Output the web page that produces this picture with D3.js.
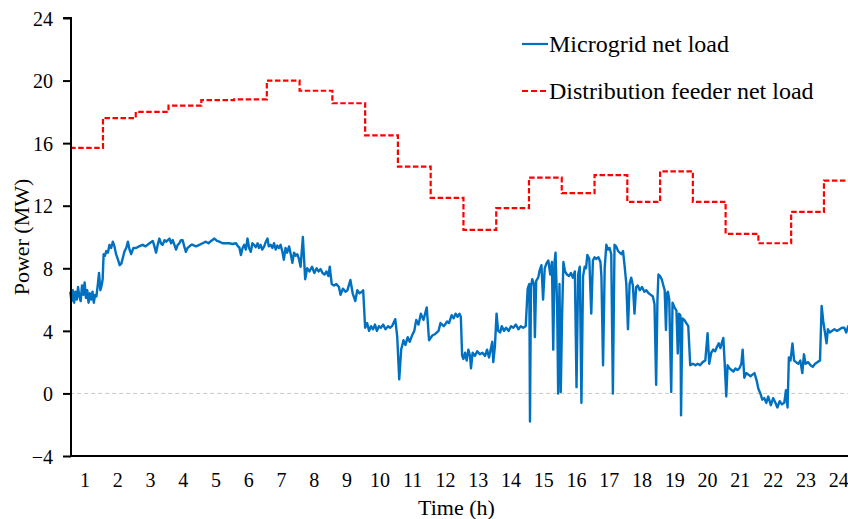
<!DOCTYPE html>
<html>
<head>
<meta charset="utf-8">
<script src="https://cdn.jsdelivr.net/npm/d3@7"></script>
<style>
  html, body { margin: 0; padding: 0; background: #fff; }
  svg { display: block; }
  svg text { font-family: "Liberation Serif", "Times New Roman", "DejaVu Serif", serif; fill: #000; }
</style>
</head>
<body>
<svg id="chart" width="848" height="519" font-family="Liberation Serif, Times New Roman, serif"></svg>
<script>
// Hourly net load of the distribution feeder (MW), hour 0..23
const feederLoad = [15.7, 17.6, 18.0, 18.4, 18.75, 18.8, 20.0, 19.35, 18.55, 16.5, 14.5, 12.5,
                    10.45, 11.85, 13.8, 12.8, 13.95, 12.25, 14.2, 12.25, 10.2, 9.6, 11.6, 13.6];

// Microgrid net load samples: [time (h), power (MW)]
const microgridLoad = [
  [0.00,6.5],[0.04,5.9],[0.08,6.6],[0.12,5.8],[0.16,6.5],[0.20,6.0],[0.24,6.8],[0.28,6.2],[0.32,5.9],[0.36,6.9],
  [0.40,6.3],[0.44,7.1],[0.48,6.1],[0.52,6.6],[0.56,5.8],[0.60,6.4],[0.64,6.0],[0.68,6.5],[0.72,5.8],[0.76,6.3],
  [0.80,6.2],[0.84,6.9],[0.88,7.7],[0.92,6.6],[0.96,6.9],[0.99,7.3],
  [1.02,8.9],[1.06,8.8],[1.10,9.1],[1.15,9.0],[1.20,9.5],[1.25,9.3],[1.30,9.7],[1.35,9.4],[1.40,8.9],[1.45,8.6],
  [1.51,8.2],[1.56,8.3],[1.61,8.7],[1.66,9.1],[1.71,9.3],[1.76,9.7],[1.81,9.2],[1.86,8.9],[1.93,9.3],[2.01,9.3],
  [2.10,9.4],[2.21,9.5],[2.30,9.4],[2.42,9.6],[2.52,9.75],[2.57,9.4],[2.62,9.0],[2.67,9.5],[2.72,9.9],[2.77,9.6],
  [2.82,9.5],[2.88,9.8],[2.93,9.7],[3.03,9.9],[3.08,9.6],[3.13,9.8],[3.18,9.5],[3.23,9.2],[3.28,9.5],[3.33,9.6],
  [3.38,9.8],[3.43,9.8],[3.48,9.4],[3.53,9.05],[3.58,9.3],[3.64,9.4],[3.69,9.5],[3.74,9.5],[3.84,9.4],[3.94,9.5],
  [4.04,9.6],[4.14,9.7],[4.22,9.6],[4.30,9.75],[4.40,9.9],[4.48,9.75],[4.55,9.7],[4.65,9.6],[4.75,9.6],[4.85,9.6],
  [4.95,9.55],[5.06,9.6],[5.12,9.4],[5.16,9.35],[5.21,8.85],[5.26,9.3],[5.31,9.5],[5.36,9.2],[5.41,9.9],[5.46,9.3],
  [5.51,9.05],[5.56,9.6],[5.61,9.5],[5.66,9.35],[5.72,9.6],[5.76,9.3],[5.81,9.5],[5.86,9.2],[5.92,9.4],[5.97,9.7],
  [6.02,9.9],[6.06,9.4],[6.12,9.5],[6.17,9.3],[6.22,9.6],[6.27,9.2],[6.32,9.45],[6.37,9.3],[6.42,9.5],[6.47,9.1],
  [6.52,8.55],[6.57,9.3],[6.62,9.0],[6.68,9.4],[6.73,8.9],[6.78,8.35],[6.83,9.0],[6.88,8.8],[6.93,8.9],[6.98,8.6],
  [7.03,8.1],[7.10,10.0],[7.17,7.3],[7.23,8.0],[7.30,7.8],[7.38,8.1],[7.45,7.7],[7.52,8.0],[7.58,7.8],[7.64,7.95],
  [7.70,7.7],[7.76,7.6],[7.82,7.8],[7.88,7.5],[7.92,8.1],[7.98,7.0],[8.05,6.9],[8.12,7.0],[8.20,6.8],[8.25,6.3],
  [8.32,6.7],[8.40,6.5],[8.46,6.6],[8.55,7.25],[8.62,6.4],[8.70,5.9],[8.76,6.6],[8.83,6.4],[8.90,6.5],[8.94,6.6],
  [9.00,4.2],[9.06,4.5],[9.12,4.0],[9.18,4.3],[9.24,4.1],[9.30,4.4],[9.36,4.0],[9.42,4.3],[9.48,4.2],[9.55,4.4],
  [9.62,4.1],[9.70,4.3],[9.76,4.2],[9.82,4.3],[9.92,4.75],[9.98,3.6],[10.04,0.9],[10.10,2.8],[10.17,3.4],[10.23,3.1],
  [10.30,3.6],[10.36,3.3],[10.43,3.7],[10.50,4.0],[10.56,4.7],[10.63,4.4],[10.70,5.1],[10.78,4.7],[10.88,5.5],[10.95,3.4],
  [11.05,3.7],[11.14,3.8],[11.24,4.0],[11.30,4.5],[11.40,4.3],[11.44,4.4],[11.50,4.6],[11.56,4.5],[11.64,5.0],[11.70,4.8],
  [11.76,5.1],[11.82,4.9],[11.88,5.1],[11.92,4.9],[11.96,2.4],[12.00,2.2],[12.05,2.6],[12.10,2.1],[12.15,2.8],[12.20,2.4],
  [12.23,1.6],[12.28,2.6],[12.35,2.4],[12.42,2.7],[12.50,2.5],[12.58,2.6],[12.66,2.4],[12.72,2.8],[12.78,2.3],[12.84,2.9],
  [12.88,3.3],[12.91,2.0],[12.96,3.0],[13.01,5.1],[13.06,4.0],[13.12,3.9],[13.17,4.3],[13.24,4.0],[13.30,4.2],[13.38,4.0],
  [13.45,4.3],[13.52,4.2],[13.60,4.4],[13.68,4.1],[13.75,4.3],[13.82,4.2],[13.90,4.3],[13.96,6.7],[14.01,7.0],[14.03,-1.8],
  [14.06,6.8],[14.10,7.3],[14.15,7.0],[14.18,3.6],[14.22,7.2],[14.28,7.4],[14.33,7.9],[14.38,8.2],[14.43,6.0],[14.48,8.0],
  [14.53,8.3],[14.59,8.5],[14.65,7.6],[14.70,8.4],[14.74,2.8],[14.78,8.4],[14.81,9.0],[14.86,5.5],[14.89,0.0],[14.93,7.0],
  [14.97,0.1],[15.01,5.0],[15.05,8.4],[15.10,7.8],[15.16,7.6],[15.22,7.5],[15.28,7.7],[15.34,7.4],[15.40,7.8],[15.45,0.4],
  [15.50,7.6],[15.55,8.1],[15.60,-0.6],[15.65,7.5],[15.70,8.1],[15.74,8.0],[15.78,8.85],[15.84,8.6],[15.90,5.1],[15.95,8.5],
  [16.00,8.7],[16.05,8.6],[16.12,8.7],[16.18,8.4],[16.21,7.5],[16.26,1.8],[16.31,8.0],[16.36,9.5],[16.41,9.2],[16.46,9.3],
  [16.51,8.9],[16.56,0.0],[16.61,9.5],[16.66,9.4],[16.72,9.1],[16.77,9.0],[16.82,8.9],[16.87,9.1],[16.92,8.1],[16.97,7.0],
  [17.02,4.1],[17.07,7.0],[17.12,7.4],[17.17,6.9],[17.22,5.1],[17.27,6.8],[17.32,6.9],[17.38,6.6],[17.45,6.8],[17.52,6.5],
  [17.58,6.6],[17.65,6.4],[17.72,6.3],[17.78,6.2],[17.83,5.7],[17.88,0.55],[17.92,6.0],[17.95,7.6],[18.00,7.5],[18.05,7.3],
  [18.10,6.9],[18.14,6.6],[18.18,4.05],[18.21,6.4],[18.24,6.5],[18.28,6.0],[18.34,0.1],[18.38,5.8],[18.44,5.5],[18.50,5.3],
  [18.54,2.55],[18.58,5.1],[18.62,5.0],[18.64,-1.4],[18.68,4.8],[18.74,4.7],[18.80,4.5],[18.86,4.3],[18.92,1.8],[19.00,1.9],
  [19.08,1.8],[19.15,1.9],[19.22,1.8],[19.30,2.0],[19.38,2.1],[19.45,3.85],[19.50,1.9],[19.56,2.6],[19.62,2.8],[19.68,2.7],
  [19.74,3.0],[19.79,3.2],[19.84,2.9],[19.88,3.2],[19.93,3.55],[19.97,2.0],[20.02,-0.2],[20.06,1.8],[20.12,1.6],[20.18,1.5],
  [20.24,1.4],[20.30,1.6],[20.36,1.5],[20.42,1.6],[20.48,1.9],[20.52,2.8],[20.57,1.0],[20.63,1.3],[20.70,1.2],[20.76,1.1],
  [20.82,1.2],[20.88,1.3],[20.95,0.8],[21.00,0.3],[21.06,0.0],[21.12,-0.4],[21.18,-0.3],[21.24,-0.6],[21.30,-0.2],[21.38,-0.75],
  [21.45,-0.3],[21.52,-0.6],[21.58,-0.9],[21.65,-0.5],[21.72,-0.7],[21.79,-0.6],[21.84,0.2],[21.89,-0.9],[21.93,2.3],[21.98,2.1],
  [22.04,3.2],[22.09,2.1],[22.15,2.0],[22.22,1.9],[22.28,2.1],[22.34,1.3],[22.39,2.5],[22.44,1.9],[22.52,2.0],[22.59,1.8],
  [22.66,1.7],[22.73,1.9],[22.80,2.0],[22.88,2.1],[22.93,5.6],[22.98,4.6],[23.03,3.9],[23.08,3.2],[23.12,4.1],[23.18,3.9],
  [23.25,4.0],[23.32,4.1],[23.40,4.0],[23.48,4.1],[23.55,4.2],[23.62,4.2],[23.68,3.9],[23.74,4.3],[23.82,4.2],[23.90,4.1],
  [24.00,4.2]
];

const hourLabels = d3.range(1, 25).map(String);
const powerTicks = [-4, 0, 4, 8, 12, 16, 20, 24];

const seriesNames = ["Microgrid net load", "Distribution feeder net load"];
const seriesColors = ["#0070C0", "#FF0000"];

const serif = '"Liberation Serif", "Times New Roman", "DejaVu Serif", serif';

const svg = d3.select("#chart");
svg.append("rect").attr("width", 848).attr("height", 519).attr("fill", "#fff");

const x = d3.scaleLinear().domain([0, 24]).range([70.2, 856.7]);
const y = d3.scaleLinear().domain([-4, 24]).range([456, 18]);

// Zero reference line
svg.append("line")
  .attr("x1", x(0)).attr("x2", x(24))
  .attr("y1", y(0)).attr("y2", y(0))
  .attr("stroke", "#C8C8C8").attr("stroke-width", 1)
  .attr("stroke-dasharray", "4,3");

// Feeder net load as an hourly step line
const feederPoints = feederLoad.map((v, i) => [i, v]).concat([[24, feederLoad[feederLoad.length - 1]]]);
svg.append("path")
  .datum(feederPoints)
  .attr("fill", "none")
  .attr("stroke", seriesColors[1])
  .attr("stroke-width", 2.2)
  .attr("stroke-dasharray", "5.5,2.5")
  .attr("d", d3.line().x(d => x(d[0])).y(d => y(d[1])).curve(d3.curveStepAfter));

// Microgrid net load
svg.append("path")
  .datum(microgridLoad)
  .attr("fill", "none")
  .attr("stroke", seriesColors[0])
  .attr("stroke-width", 2.4)
  .attr("stroke-linejoin", "round")
  .attr("d", d3.line().x(d => x(d[0])).y(d => y(d[1])));

// Y axis
const yAxis = svg.append("g")
  .attr("transform", `translate(${x(0) + 0.8},0)`)
  .call(d3.axisLeft(y).tickValues(powerTicks).tickSize(8).tickPadding(10).tickFormat(d3.format("d")));
yAxis.attr("font-family", serif);
yAxis.select(".domain").attr("stroke", "#000").attr("stroke-width", 2).attr("d", `M-8,${y(24)}H0V${y(-4)}`);
yAxis.selectAll(".tick line").attr("stroke", "#000").attr("stroke-width", 2);
yAxis.selectAll(".tick text")
  .attr("font-family", serif)
  .attr("font-size", 20).attr("fill", "#000").attr("dy", "0.36em");

// X axis line (no tick marks)
svg.append("line")
  .attr("x1", x(0) - 0.2).attr("x2", x(24))
  .attr("y1", y(-4)).attr("y2", y(-4))
  .attr("stroke", "#000").attr("stroke-width", 2);

// Hour labels sit in the middle of each hour slot
svg.append("g").selectAll("text")
  .data(hourLabels)
  .join("text")
  .attr("x", (d, i) => x(i + 1 - 0.55))
  .attr("y", 487)
  .attr("text-anchor", "middle")
  .attr("font-family", serif)
  .attr("font-size", 20)
  .text(d => d);

// Axis titles
svg.append("text")
  .attr("x", x(12) - 7).attr("y", 515)
  .attr("text-anchor", "middle")
  .attr("font-family", serif)
  .attr("font-size", 22)
  .text("Time (h)");

svg.append("text")
  .attr("transform", `translate(29,${y(10)}) rotate(-90)`)
  .attr("text-anchor", "middle")
  .attr("font-family", serif)
  .attr("font-size", 22)
  .text("Power (MW)");

// Legend
const legend = svg.append("g");
const legendRows = [
  { name: seriesNames[0], color: seriesColors[0], dash: null, cy: 44 },
  { name: seriesNames[1], color: seriesColors[1], dash: "6,3", cy: 91 }
];
legendRows.forEach(r => {
  legend.append("line")
    .attr("x1", 522).attr("x2", 548).attr("y1", r.cy).attr("y2", r.cy)
    .attr("stroke", r.color).attr("stroke-width", 2.2)
    .attr("stroke-dasharray", r.dash);
  legend.append("text")
    .attr("x", 549).attr("y", r.cy + 8)
    .attr("font-family", serif)
    .attr("font-size", 24)
    .text(r.name);
});
</script>
</body>
</html>
